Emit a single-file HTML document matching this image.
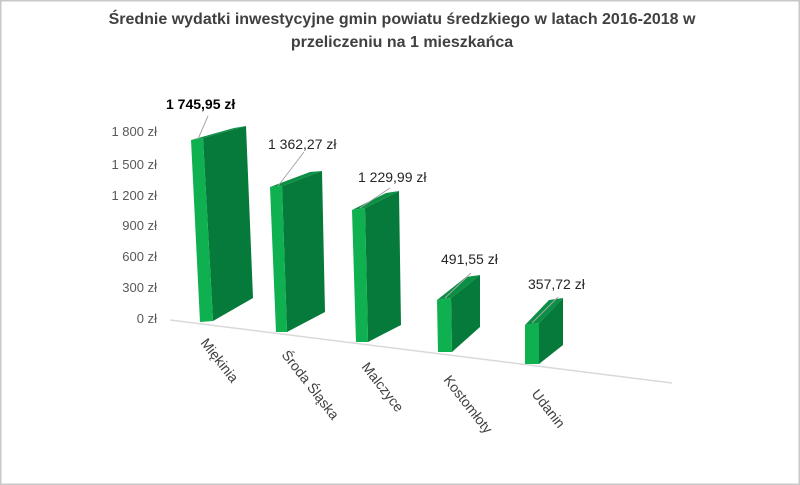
<!DOCTYPE html>
<html><head><meta charset="utf-8"><style>
html,body{margin:0;padding:0;background:#fff}
svg{display:block}
text{font-family:"Liberation Sans",sans-serif}
</style></head><body>
<svg width="800" height="485" viewBox="0 0 800 485" xmlns="http://www.w3.org/2000/svg">
<rect x="0.5" y="0.5" width="799" height="484" fill="#fff" stroke="#c8c8c8" stroke-width="2"/>
<g font-weight="bold" font-size="16" fill="#404040" text-anchor="middle">
<text x="402" y="24">Średnie wydatki inwestycyjne gmin powiatu średzkiego w latach 2016-2018 w</text>
<text x="402" y="47">przeliczeniu na 1 mieszkańca</text>
</g>
<g font-size="13" fill="#595959" text-anchor="end">
<text x="157" y="136">1 800 zł</text>
<text x="157" y="169">1 500 zł</text>
<text x="157" y="200">1 200 zł</text>
<text x="157" y="230">900 zł</text>
<text x="157" y="261">600 zł</text>
<text x="157" y="292">300 zł</text>
<text x="157" y="323">0 zł</text>
</g>
<line x1="170" y1="320" x2="672" y2="383" stroke="#d9d9d9" stroke-width="1.5"/>
<!-- bars -->
<g>
<polygon points="203,138 246,126 253,298 213,321" fill="#067a3a"/>
<polygon points="191,140 234,128 246,126 203,138" fill="#0a8f44"/>
<polygon points="191,140 203,138 213,321 200,322" fill="#0fb050"/>

<polygon points="282,186 322,171 325,312 287,332" fill="#067a3a"/>
<polygon points="270,187 310,172 322,171 282,186" fill="#0a8f44"/>
<polygon points="270,187 282,186 287,332 276,332" fill="#0fb050"/>

<polygon points="365,208 399,191 401,325 368,342" fill="#067a3a"/>
<polygon points="352,210 386,193 399,191 365,208" fill="#0a8f44"/>
<polygon points="352,210 365,208 368,342 356,342" fill="#0fb050"/>

<polygon points="451,298 480,275 480,327 452,352" fill="#067a3a"/>
<polygon points="437,300 466,277 480,275 451,298" fill="#0a8f44"/>
<polygon points="437,300 451,298 452,352 438,352" fill="#0fb050"/>

<polygon points="539,323 563,298 563,345 539,364" fill="#067a3a"/>
<polygon points="525,325 549,300 563,298 539,323" fill="#0a8f44"/>
<polygon points="525,325 539,323 539,364 525,364" fill="#0fb050"/>
</g>
<g stroke="#a6a6a6" stroke-width="1">
<line x1="208" y1="116" x2="198" y2="139"/>
<line x1="304" y1="152" x2="278" y2="186"/>
<line x1="390" y1="188" x2="360" y2="208"/>
<line x1="471" y1="273" x2="445" y2="298"/>
<line x1="558" y1="297" x2="532" y2="323"/>
</g>
<g font-size="14" fill="#262626">
<text x="166" y="109" font-weight="bold" fill="#000">1 745,95 zł</text>
<text x="268" y="149">1 362,27 zł</text>
<text x="358" y="182">1 229,99 zł</text>
<text x="441" y="264">491,55 zł</text>
<text x="528" y="289">357,72 zł</text>
</g>
<g font-size="14" fill="#404040">
<text transform="translate(200,343) rotate(52)">Miękinia</text>
<text transform="translate(281,355) rotate(52)">Środa Śląska</text>
<text transform="translate(361,367) rotate(52)">Malczyce</text>
<text transform="translate(443,380) rotate(52)">Kostomłoty</text>
<text transform="translate(531,394) rotate(52)">Udanin</text>
</g>
</svg>
</body></html>
